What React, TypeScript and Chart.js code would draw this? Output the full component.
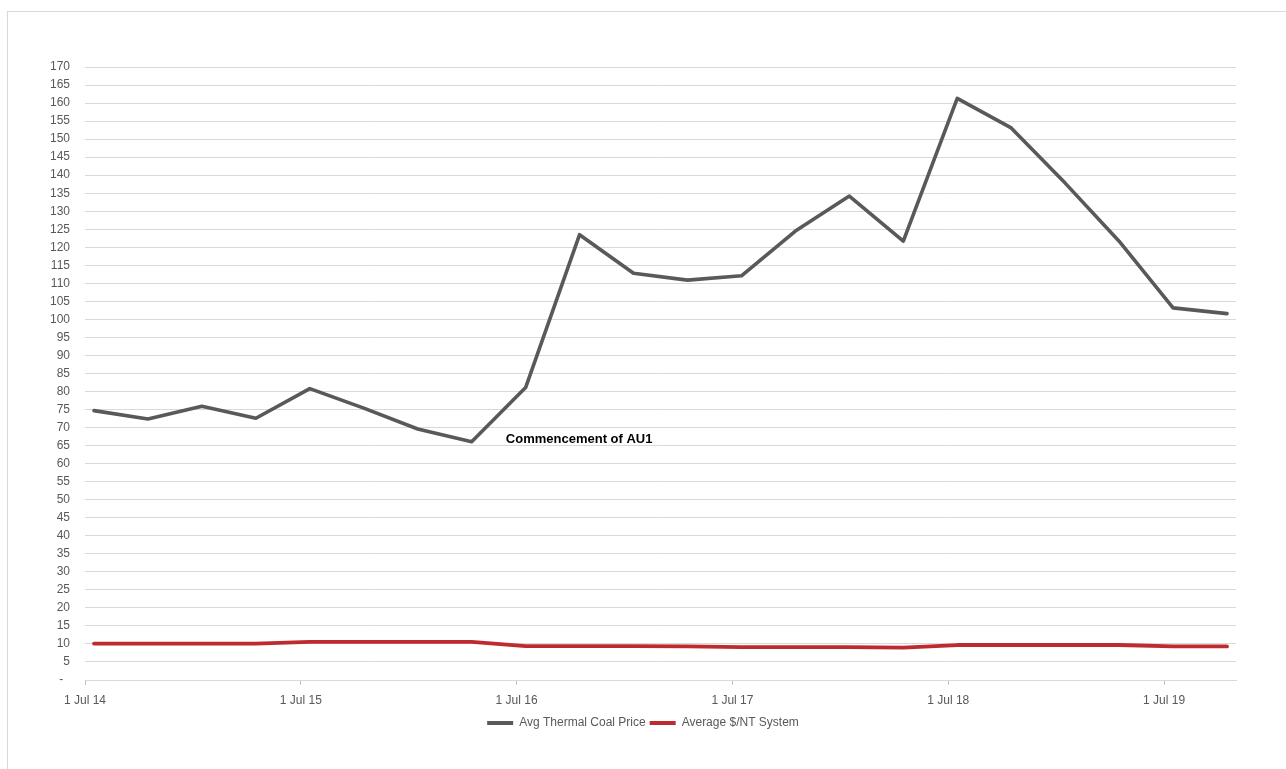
import { useEffect, useRef } from "react";
import { Chart, registerables } from "chart.js";

Chart.register(...registerables);

// Quarterly periods, Jul 2014 – Oct 2019
const periods = [
  "Jul 14", "Oct 14", "Jan 15", "Apr 15",
  "Jul 15", "Oct 15", "Jan 16", "Apr 16",
  "Jul 16", "Oct 16", "Jan 17", "Apr 17",
  "Jul 17", "Oct 17", "Jan 18", "Apr 18",
  "Jul 18", "Oct 18", "Jan 19", "Apr 19",
  "Jul 19", "Oct 19",
];

const coalPrice = [
  74.7, 72.4, 75.9, 72.6,
  80.8, 75.4, 69.6, 66.1,
  81.1, 123.5, 112.8, 110.9,
  112.1, 124.5, 134.2, 121.7,
  161.3, 153.1, 137.8, 121.7,
  103.2, 101.6,
];

const systemPrice = [
  10.1, 10.1, 10.1, 10.1,
  10.6, 10.6, 10.6, 10.6,
  9.4, 9.4, 9.4, 9.35,
  9.1, 9.1, 9.1, 9.0,
  9.7, 9.7, 9.7, 9.7,
  9.3, 9.3,
];

const seriesNames = ["Avg Thermal Coal Price", "Average $/NT System"];

// Year ticks, in months after 1 Jul 2014
const yearTicks = [0, 12, 24, 36, 48, 60];
const yearLabels = ["1 Jul 14", "1 Jul 15", "1 Jul 16", "1 Jul 17", "1 Jul 18", "1 Jul 19"];

const noteText = "Commencement of AU1";
const noteAt = { x: 23.4, y: 66.8 };

const FONT = "'Liberation Sans', Arial, sans-serif";
const TEXT = "#595959";

// each quarter's value sits half a month into its first month
const monthOf = (i: number) => i * 3 + 0.5;

const notePlugin = {
  id: "au1Note",
  afterDatasetsDraw(chart: any) {
    const { ctx, scales } = chart;
    ctx.save();
    ctx.font = `bold 13px ${FONT}`;
    ctx.fillStyle = "#000000";
    ctx.textAlign = "left";
    ctx.textBaseline = "middle";
    ctx.fillText(noteText, scales.x.getPixelForValue(noteAt.x), scales.y.getPixelForValue(noteAt.y));
    ctx.restore();
  },
};

export default function App() {
  const ref = useRef<HTMLCanvasElement | null>(null);

  useEffect(() => {
    if (!ref.current) return;
    const chart = new Chart(ref.current, {
      type: "line",
      data: {
        datasets: [
          {
            label: seriesNames[0],
            data: coalPrice.map((v, i) => ({ x: monthOf(i), y: v })),
            borderColor: "#595959",
            backgroundColor: "#595959",
            borderWidth: 3.6,
            pointRadius: 0,
            tension: 0,
            borderJoinStyle: "round",
            borderCapStyle: "round",
          },
          {
            label: seriesNames[1],
            data: systemPrice.map((v, i) => ({ x: monthOf(i), y: v })),
            borderColor: "#be2a2f",
            backgroundColor: "#be2a2f",
            borderWidth: 3.8,
            pointRadius: 0,
            tension: 0,
            borderJoinStyle: "round",
            borderCapStyle: "round",
          },
        ],
      },
      options: {
        responsive: false,
        animation: false,
        layout: { padding: { left: 25, right: 25, top: 67, bottom: 30 } },
        plugins: {
          tooltip: { enabled: false },
          legend: {
            position: "bottom",
            labels: {
              boxWidth: 26,
              boxHeight: 4,
              padding: 4,
              color: TEXT,
              font: { size: 12, family: FONT },
              generateLabels: (c: any) =>
                Chart.defaults.plugins.legend.labels
                  .generateLabels(c)
                  .map((l: any) => ({ ...l, lineWidth: 0, fillStyle: l.strokeStyle })),
            },
          },
        },
        scales: {
          x: {
            type: "linear",
            min: 0,
            max: 64,
            afterBuildTicks: (s: any) => {
              s.ticks = yearTicks.map((v) => ({ value: v }));
            },
            afterFit: (s: any) => {
              s.height = 33;
            },
            ticks: {
              autoSkip: false,
              maxRotation: 0,
              padding: 8,
              color: TEXT,
              font: { size: 12, family: FONT },
              callback: (v: any) => {
                const k = yearTicks.indexOf(Number(v));
                return k >= 0 ? yearLabels[k] : "";
              },
            },
            grid: { drawOnChartArea: false, drawTicks: true, tickLength: 5, color: "#bfbfbf" },
            border: { color: "#d9d9d9" },
          },
          y: {
            type: "linear",
            min: 0,
            max: 170,
            afterFit: (s: any) => {
              s.width = 60;
            },
            ticks: {
              stepSize: 5,
              padding: 15,
              color: TEXT,
              font: { size: 12, family: FONT },
              callback: (v: any) => (Number(v) === 0 ? "-  " : String(v)),
            },
            grid: { color: "#d9d9d9", drawTicks: false },
            border: { display: false },
          },
          yPad: {
            type: "linear",
            position: "right",
            display: true,
            afterFit: (s: any) => {
              s.width = 25;
            },
            ticks: { display: false },
            grid: { display: false },
            border: { display: false },
          },
        },
      },
      plugins: [notePlugin],
    } as any);
    return () => chart.destroy();
  }, []);

  return (
    <div style={{ position: "fixed", left: 0, top: 0, width: 1286, height: 769, background: "#ffffff" }}>
      <div
        style={{
          position: "absolute",
          left: 7,
          top: 11,
          right: -10,
          bottom: -10,
          border: "1px solid #d9d9d9",
        }}
      />
      <canvas ref={ref} width={1286} height={769} style={{ position: "absolute", left: 0, top: 0, display: "block" }} />
    </div>
  );
}
